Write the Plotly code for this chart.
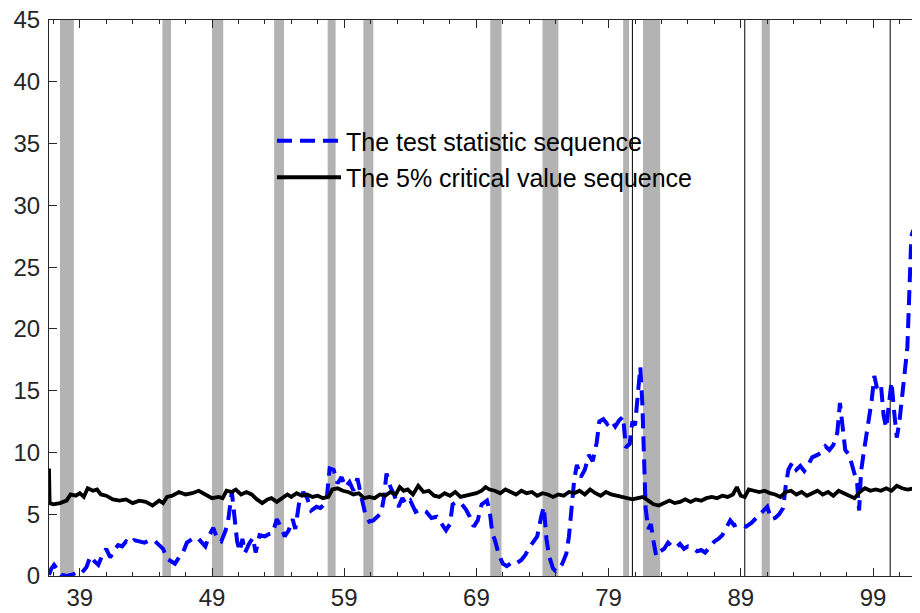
import plotly.graph_objects as go

# ---------------- data ----------------
stat_x = [36.67, 36.85, 37.05, 37.3, 37.6, 38.0, 38.4, 38.8, 39.1, 39.5, 39.8, 40.1, 40.4, 40.7, 41.0, 41.3, 41.6, 41.9,
          42.2, 42.5, 42.8, 43.1, 43.5, 43.9, 44.3, 44.7, 45.0, 45.3, 45.6, 45.9, 46.2, 46.5, 46.8, 47.1, 47.5, 47.9,
          48.2, 48.5, 48.8, 49.1, 49.4, 49.7, 50.0, 50.2, 50.5, 50.7, 50.9, 51.1, 51.3, 51.5, 51.8, 52.1, 52.3, 52.6,
          53.0, 53.3, 53.6, 53.9, 54.2, 54.5, 54.8, 55.1, 55.3, 55.6, 55.9, 56.2, 56.5, 56.9, 57.2, 57.5, 57.7, 57.9,
          58.2, 58.5, 58.8, 59.1, 59.4, 59.7, 60.0, 60.3, 60.6, 60.9, 61.2, 61.5, 61.8, 62.0, 62.2, 62.5, 62.8, 63.1,
          63.4, 63.7, 64.0, 64.4, 64.8, 65.2, 65.6, 66.0, 66.3, 66.7, 67.0, 67.2, 67.5, 67.9, 68.2, 68.5, 68.8, 69.1,
          69.4, 69.8, 70.0, 70.2, 70.4, 70.7, 71.0, 71.3, 71.7, 72.0, 72.4, 72.7, 73.0, 73.3, 73.6, 73.9, 74.1, 74.3,
          74.5, 74.8, 75.0, 75.2, 75.5, 75.8, 76.0, 76.2, 76.4, 76.6, 76.9, 77.2, 77.5, 77.8, 78.1, 78.3, 78.6, 78.9,
          79.2, 79.5, 79.8, 80.1, 80.3, 80.6, 80.8, 81.0, 81.2, 81.4, 81.55, 81.7, 81.8, 82.0, 82.2, 82.4, 82.6, 82.9,
          83.2, 83.5, 83.8, 84.1, 84.4, 84.7, 85.0, 85.3, 85.7, 86.0, 86.3, 86.7, 87.0, 87.3, 87.6, 87.9, 88.2, 88.5,
          88.8, 89.1, 89.4, 89.8, 90.1, 90.4, 90.7, 91.0, 91.3, 91.6, 91.9, 92.2, 92.4, 92.6, 92.9, 93.2, 93.5, 93.8,
          94.1, 94.4, 94.8, 95.1, 95.4, 95.7, 96.0, 96.3, 96.5, 96.7, 96.9, 97.2, 97.5, 97.8, 97.95, 98.1, 98.3, 98.5,
          98.7, 98.9, 99.1, 99.3, 99.6, 99.8, 100.0, 100.2, 100.4, 100.6, 100.8, 101.0, 101.2, 101.4, 101.6, 101.75,
          101.9, 102.05, 102.2]
stat_y = [0.1, 0.6, 0.9, 0.5, 0.1, 0.0, 0.1, 0.3, 0.2, 0.7, 1.6, 1.2, 0.9, 1.7, 2.2, 1.5, 2.1, 2.5,
          2.4, 2.8, 2.6, 2.9, 2.8, 2.7, 2.9, 2.8, 2.5, 2.2, 1.4, 1.2, 1.0, 1.5, 1.9, 2.7, 3.0, 3.1,
          2.8, 2.4, 3.3, 3.9, 3.0, 2.8, 3.6, 4.3, 6.8, 5.0, 2.8, 2.0, 3.0, 1.9, 2.6, 3.1, 1.9, 3.3,
          3.2, 3.4, 3.5, 4.6, 4.0, 3.2, 3.7, 4.6, 3.8, 6.0, 6.8, 6.3, 5.3, 5.6, 5.5, 5.8, 6.5, 8.7,
          8.6, 7.5, 8.0, 7.2, 7.6, 6.9, 7.9, 6.4, 5.0, 4.4, 4.5, 4.8, 5.1, 6.3, 8.3, 7.2, 6.5, 5.6,
          6.3, 5.8, 6.1, 5.2, 5.4, 5.2, 4.7, 4.8, 4.3, 3.7, 4.2, 5.8, 6.0, 5.8, 5.4, 4.8, 4.0, 4.5,
          5.8, 6.1, 5.3, 3.5, 2.9, 1.7, 1.0, 0.8, 1.1, 1.0, 1.3, 1.7, 2.3, 2.7, 3.2, 4.8, 5.6, 3.0,
          1.6, 0.6, 0.4, 0.5, 1.0, 1.8, 3.2, 5.5, 7.8, 9.0, 8.0, 8.6, 9.8, 9.3, 10.8, 12.5, 12.7, 12.3,
          12.6, 12.1, 12.6, 12.9, 10.4, 10.7, 12.5, 12.2, 14.5, 16.9, 14.0, 9.0, 5.5, 3.8, 4.2, 2.8, 1.6, 2.0,
          2.2, 2.7, 2.4, 2.3, 2.6, 2.2, 2.4, 2.3, 2.0, 2.1, 1.9, 2.4, 2.8, 3.0, 3.3, 3.9, 4.5, 4.1,
          4.2, 4.1, 4.0, 4.3, 4.6, 4.9, 5.3, 5.6, 4.6, 4.7, 5.0, 5.5, 7.3, 8.6, 9.2, 8.6, 8.9, 8.5,
          9.0, 9.6, 9.8, 10.0, 10.5, 10.2, 10.6, 11.6, 14.0, 11.8, 10.2, 9.8, 8.6, 7.5, 5.3, 8.5, 10.0, 11.5,
          12.6, 14.2, 16.2, 15.2, 15.5, 13.0, 12.0, 14.0, 15.7, 13.3, 11.2, 12.5, 14.8, 16.5, 18.5, 23.0,
          27.5, 28.0, 27.2]

crit_x = [36.67, 36.72, 37.0, 37.5, 38.0, 38.3, 38.7, 39.0, 39.3, 39.6, 40.0, 40.3, 40.6, 41.0, 41.5, 42.0, 42.5,
          43.0, 43.5, 44.0, 44.5, 45.0, 45.3, 45.6, 46.0, 46.5, 47.0, 47.5, 48.0, 48.5, 49.0, 49.5, 49.8, 50.1,
          50.5, 50.8, 51.2, 51.6, 52.0, 52.4, 52.8, 53.2, 53.5, 53.9, 54.3, 54.7, 55.0, 55.4, 55.8, 56.2, 56.6,
          57.0, 57.4, 57.8, 58.1, 58.5, 58.9, 59.3, 59.7, 60.1, 60.5, 60.9, 61.3, 61.7, 62.1, 62.5, 62.9, 63.2,
          63.5, 63.8, 64.2, 64.6, 65.0, 65.4, 65.8, 66.2, 66.6, 67.0, 67.4, 67.8, 68.2, 68.6, 69.0, 69.4, 69.7,
          70.0, 70.4, 70.8, 71.2, 71.6, 72.0, 72.4, 72.8, 73.2, 73.6, 74.0, 74.4, 74.8, 75.2, 75.6, 76.0, 76.4,
          76.8, 77.2, 77.6, 78.0, 78.4, 78.8, 79.2, 79.6, 80.0, 80.4, 80.8, 81.2, 81.6, 82.0, 82.4, 82.8, 83.2,
          83.6, 84.0, 84.4, 84.8, 85.2, 85.6, 86.0, 86.4, 86.8, 87.2, 87.6, 88.0, 88.4, 88.7, 89.0, 89.3, 89.6,
          90.0, 90.4, 90.8, 91.2, 91.6, 92.0, 92.4, 92.8, 93.2, 93.6, 94.0, 94.4, 94.8, 95.2, 95.6, 96.0, 96.4,
          96.8, 97.2, 97.6, 98.0, 98.4, 98.8, 99.2, 99.6, 100.0, 100.4, 100.8, 101.2, 101.6, 102.2]
crit_y = [8.7, 5.9, 5.8, 5.9, 6.1, 6.6, 6.5, 6.7, 6.4, 7.1, 6.9, 7.0, 6.6, 6.5, 6.2, 6.1, 6.2,
          5.9, 6.1, 6.0, 5.7, 6.1, 5.9, 6.4, 6.5, 6.8, 6.6, 6.7, 6.9, 6.6, 6.3, 6.4, 6.3, 6.9,
          6.8, 7.0, 6.6, 6.8, 6.6, 6.2, 5.9, 6.2, 6.3, 6.0, 6.3, 6.6, 6.4, 6.7, 6.5, 6.6, 6.4,
          6.5, 6.3, 6.4, 7.0, 7.1, 6.9, 6.8, 6.6, 6.7, 6.3, 6.4, 6.3, 6.6, 6.5, 6.8, 6.6, 7.2,
          6.9, 7.0, 6.6, 7.3, 6.8, 6.9, 6.5, 6.4, 6.7, 6.5, 6.8, 6.4, 6.5, 6.6, 6.7, 6.9, 7.2,
          7.0, 6.9, 6.7, 7.0, 6.8, 6.6, 6.9, 6.7, 6.8, 6.5, 6.7, 6.6, 6.4, 6.6, 6.5, 6.8, 6.7,
          6.9, 6.6, 7.0, 6.7, 6.5, 6.8, 6.6, 6.5, 6.4, 6.3, 6.2, 6.3, 6.4, 6.1, 5.8, 5.7, 5.9,
          6.1, 5.9, 6.0, 6.2, 6.0, 6.2, 6.1, 6.3, 6.4, 6.3, 6.5, 6.4, 6.6, 7.2, 6.5, 6.4, 7.0,
          6.9, 6.8, 6.9, 6.7, 6.6, 6.4, 6.8, 6.9, 6.6, 6.8, 6.5, 6.7, 6.9, 6.6, 6.8, 6.5, 6.9,
          6.7, 6.5, 6.3, 6.8, 7.1, 6.9, 7.0, 6.9, 7.1, 6.9, 7.3, 7.1, 7.0, 7.1]

band_start = [37.5, 45.25, 49.0, 53.7, 57.75, 60.45, 70.05, 74.0, 80.1, 81.6, 90.58]
band_end = [38.55, 45.9, 49.85, 54.45, 58.35, 61.2, 70.9, 75.2, 80.55, 82.9, 91.2]
break_dates = [80.8, 89.3, 100.3]

x_ticks = [39, 49, 59, 69, 79, 89, 99]
y_ticks = [0, 5, 10, 15, 20, 25, 30, 35, 40, 45]

# ---------------- figure ----------------
fig = go.Figure()

fig.add_trace(go.Scatter(
    x=stat_x, y=stat_y, mode="lines", name="The test statistic sequence",
    legendgroup="a", line=dict(color="#0000ff", width=4, dash="15px,8px")))
fig.add_trace(go.Scatter(
    x=crit_x, y=crit_y, mode="lines", name="The 5% critical value sequence",
    legendgroup="b", line=dict(color="#000000", width=3.8)))

shapes = []
for s, e in zip(band_start, band_end):
    shapes.append(dict(type="rect", xref="x", yref="paper", x0=s, x1=e, y0=0, y1=1,
                       fillcolor="rgb(179,179,179)", line=dict(width=0), layer="below"))
for b in break_dates:
    shapes.append(dict(type="line", xref="x", yref="paper", x0=b, x1=b, y0=0, y1=1,
                       line=dict(color="#000000", width=1), layer="below"))

# page is offset by the 8px body margin, so the figure is sized/placed to compensate
axis_col = "#262626"
W = 904
fig.update_layout(
    width=W, height=605,
    margin=dict(l=41, r=0, t=12, b=37, autoexpand=False),
    paper_bgcolor="white", plot_bgcolor="white",
    font=dict(family="Liberation Sans, Arial, sans-serif", size=24, color=axis_col),
    shapes=shapes,
    showlegend=True,
    legend=dict(x=(264 - 41) / (W - 41), xanchor="left", y=1 - (110 - 12) / 556, yanchor="top",
                bgcolor="rgba(0,0,0,0)", borderwidth=0, tracegroupgap=1,
                font=dict(size=25, color="#000000"), itemwidth=64),
    xaxis=dict(range=[36.67, 101.95], tickvals=x_ticks, ticks="inside", ticklen=8,
               tickcolor=axis_col, showline=True, linecolor=axis_col, linewidth=1, mirror="ticks",
               showgrid=False, zeroline=False, automargin=False, ticklabeloverflow="allow",
               minor=dict(tick0=39, dtick=2, ticks="inside", ticklen=4, tickcolor=axis_col, showgrid=False)),
    yaxis=dict(range=[0, 45], tickvals=y_ticks, ticks="inside", ticklen=8, ticklabelstandoff=3,
               tickcolor=axis_col, showline=True, linecolor=axis_col, linewidth=1, mirror=False,
               showgrid=False, zeroline=False, automargin=False, ticklabeloverflow="allow"),
)

fig.write_html("out.html")
